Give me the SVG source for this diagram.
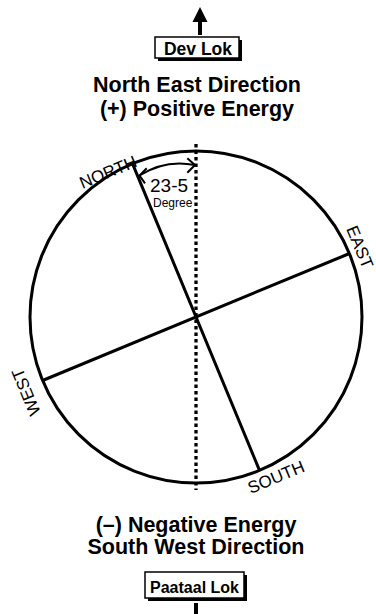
<svg xmlns="http://www.w3.org/2000/svg" width="376" height="614" viewBox="0 0 376 614">
<style>
.t{font-family:"Liberation Sans",Arial,sans-serif;fill:#000}
.b{font-weight:bold}
.ln{stroke:#000;stroke-width:3;fill:none}
.lab{font-size:17px;text-anchor:middle}
.arc{stroke:#000;stroke-width:2;fill:none}
</style>
<rect width="376" height="614" fill="#fff"/>
<g id="connectors">
<line x1="196" y1="144" x2="196" y2="490" stroke="#000" stroke-width="3.3" stroke-dasharray="3.5 3"/>
<line class="ln" x1="132.5" y1="163.6" x2="259.5" y2="470.4"/>
<line class="ln" x1="42.6" y1="380.5" x2="349.4" y2="253.5"/>
<path class="arc" d="M139.5,175.5 A75,75 0 0 1 195,165"/>
<polyline class="arc" points="146.7,168.3 139.5,175.5 145,183.3"/>
<polyline class="arc" points="187.3,158.3 195,165 187.3,172.7"/>
<line x1="200" y1="20" x2="200" y2="35" stroke="#000" stroke-width="4"/>
<polygon points="200,7 207.5,22 192.5,22" fill="#000"/>
<line x1="196" y1="603" x2="196" y2="614" stroke="#000" stroke-width="4"/>
</g>
<g id="circle">
<circle cx="196" cy="317" r="166" class="ln"/>
</g>
<g id="title-top">
<text class="t b" x="197" y="92" font-size="21.5" text-anchor="middle">North East Direction</text>
<text class="t b" x="197" y="116" font-size="21.5" text-anchor="middle">(+) Positive Energy</text>
</g>
<g id="title-bottom">
<text class="t b" x="196" y="532" font-size="21.5" text-anchor="middle">(–) Negative Energy</text>
<text class="t b" x="196" y="554" font-size="21.5" text-anchor="middle">South West Direction</text>
</g>
<g id="dev-lok">
<rect x="158" y="40" width="84" height="21" fill="#000"/>
<rect x="155" y="37" width="84" height="21" fill="#fff" stroke="#000" stroke-width="1.5"/>
<text class="t b" x="198" y="55" font-size="17.5" text-anchor="middle">Dev Lok</text>
</g>
<g id="paataal-lok">
<rect x="148" y="575" width="99" height="26" fill="#000"/>
<rect x="145" y="572" width="99" height="26" fill="#fff" stroke="#000" stroke-width="1.5"/>
<text class="t b" x="194.5" y="593" font-size="16" text-anchor="middle">Paataal Lok</text>
</g>
<g id="north"><text class="t lab" transform="translate(108,172) rotate(-22.5)" y="6">NORTH</text></g>
<g id="east"><text class="t lab" transform="translate(360,247) rotate(67.5)" y="6">EAST</text></g>
<g id="west"><text class="t lab" transform="translate(26,392) rotate(-112.5)" y="6">WEST</text></g>
<g id="south"><text class="t lab" transform="translate(276,477) rotate(-22.5)" y="6">SOUTH</text></g>
<g id="angle-label">
<text class="t" x="150" y="192" font-size="19">23-5</text>
<text class="t" x="153" y="207" font-size="12">Degree</text>
</g>
</svg>
